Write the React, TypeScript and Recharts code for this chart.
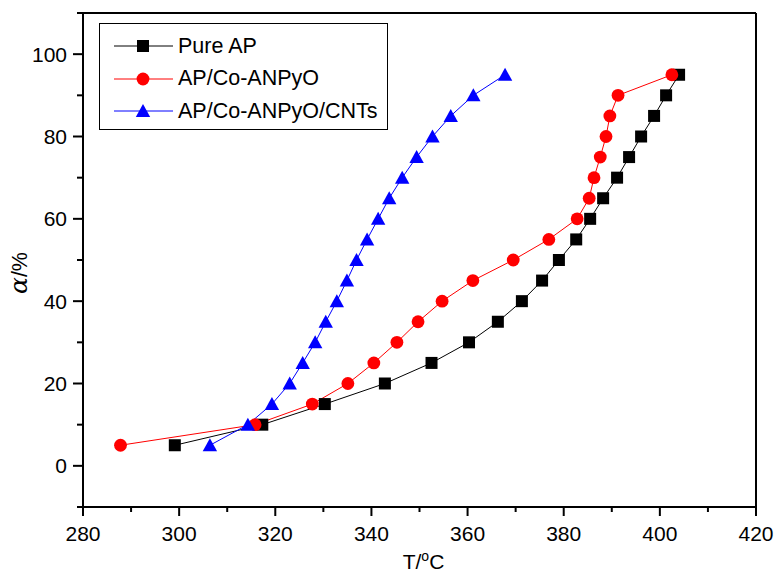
import { Line, LineChart, ReferenceLine, XAxis, YAxis } from "recharts";

const FONT = "'Liberation Sans', Arial, sans-serif";

// conversion levels, one point per 5 %
const alpha = [5, 10, 15, 20, 25, 30, 35, 40, 45, 50, 55, 60, 65, 70, 75, 80, 85, 90, 95];

// temperatures (°C)
const pureApT = [
	299.1, 317.3, 330.3, 342.8, 352.5, 360.3, 366.3, 371.3, 375.5, 379.0, 382.6, 385.5, 388.2, 391.1, 393.6, 396.1,
	398.8, 401.3, 404.0,
];
const coAnpyoT = [
	287.8, 315.8, 327.7, 335.1, 340.5, 345.3, 349.7, 354.7, 361.1, 369.5, 376.9, 382.8, 385.3, 386.3, 387.6, 388.8,
	389.6, 391.3, 402.5,
];
const cntsT = [
	306.4, 314.3, 319.3, 323.0, 325.7, 328.3, 330.5, 332.8, 334.9, 336.9, 339.1, 341.4, 343.7, 346.4, 349.4, 352.7,
	356.5, 361.2, 367.8,
];

const xTicks = [280, 290, 300, 310, 320, 330, 340, 350, 360, 370, 380, 390, 400, 410, 420];
const yTicks = [-10, 0, 10, 20, 30, 40, 50, 60, 70, 80, 90, 100, 110];

type Shape = "square" | "circle" | "triangle";

const series: { name: string; color: string; shape: Shape; temps: number[] }[] = [
	{ name: "Pure AP", color: "#000000", shape: "square", temps: pureApT },
	{ name: "AP/Co-ANPyO", color: "#ff0000", shape: "circle", temps: coAnpyoT },
	{ name: "AP/Co-ANPyO/CNTs", color: "#0000ff", shape: "triangle", temps: cntsT },
];

const toPoints = (temps: number[]) => temps.map((t, i) => ({ T: t, a: alpha[i] }));

function Marker({ shape, cx, cy, color }: { shape: Shape; cx: number; cy: number; color: string }) {
	if (shape === "square") return <rect x={cx - 6} y={cy - 6} width={12} height={12} fill={color} />;
	if (shape === "circle") return <circle cx={cx} cy={cy} r={6.4} fill={color} />;
	return <polygon points={`${cx},${cy - 7} ${cx + 7.2},${cy + 6} ${cx - 7.2},${cy + 6}`} fill={color} />;
}

function XTick(props: any) {
	const { x, y, payload } = props;
	const major = payload.value % 20 === 0;
	return (
		<g>
			<line x1={x} x2={x} y1={y} y2={y + (major ? 9 : 5)} stroke="#000" strokeWidth={2} />
			{major && (
				<text x={x} y={y + 34} textAnchor="middle" fontSize={21} fontFamily={FONT} fill="#000">
					{payload.value}
				</text>
			)}
		</g>
	);
}

function YTick(props: any) {
	const { x, y, payload } = props;
	const v = payload.value;
	const major = v % 20 === 0;
	return (
		<g>
			<line x1={x} x2={x - (major ? 10 : 6)} y1={y} y2={y} stroke="#000" strokeWidth={2} />
			{major && v >= 0 && v <= 100 && (
				<text x={x - 16} y={y} dy="0.36em" textAnchor="end" fontSize={21} fontFamily={FONT} fill="#000">
					{v}
				</text>
			)}
		</g>
	);
}

function XLabel({ viewBox }: any) {
	const { x, y, width } = viewBox;
	return (
		<text x={x + width / 2 + 4} y={y + 62} textAnchor="middle" fontSize={21} fontFamily={FONT} fill="#000">
			T/
			<tspan dy={-8} fontSize={14}>
				o
			</tspan>
			<tspan dy={8}>C</tspan>
		</text>
	);
}

function YLabel({ viewBox }: any) {
	const { x, y, height } = viewBox;
	const cx = x + 27;
	const cy = y + height / 2 + 13;
	return (
		<text
			x={cx}
			y={cy}
			transform={`rotate(-90 ${cx} ${cy})`}
			textAnchor="middle"
			fontSize={21.5}
			fontFamily={FONT}
			fill="#000"
		>
			<tspan fontStyle="italic" fontSize={25} fontFamily="'DejaVu Serif', serif">
				α
			</tspan>
			/%
		</text>
	);
}

function LegendBox() {
	return (
		<div
			style={{
				position: "absolute",
				left: 99,
				top: 23,
				width: 287,
				height: 99,
				border: "1px solid #000",
				background: "#fff",
				fontFamily: FONT,
				fontSize: 21.5,
				paddingTop: 6,
				boxSizing: "content-box",
			}}
		>
			{series.map((s) => (
				<div key={s.name} style={{ display: "flex", alignItems: "center", height: 32.5 }}>
					<svg width={78} height={20} style={{ flexShrink: 0 }}>
						<line x1={14} x2={73} y1={10} y2={10} stroke={s.color} strokeWidth={1} />
						<Marker shape={s.shape} cx={43} cy={10} color={s.color} />
					</svg>
					<span style={{ lineHeight: 1 }}>{s.name}</span>
				</div>
			))}
		</div>
	);
}

export default function App() {
	return (
		<div style={{ position: "absolute", left: 0, top: 0, width: 776, height: 573, background: "#fff" }}>
			<LineChart width={776} height={573} margin={{ top: 13, right: 20, left: 0, bottom: 0 }}>
				<XAxis
					type="number"
					dataKey="T"
					domain={[280, 420]}
					ticks={xTicks}
					interval={0}
					height={66}
					tickSize={0}
					tickMargin={0}
					tickLine={false}
					tick={XTick}
					axisLine={{ stroke: "#000", strokeWidth: 2 }}
					allowDataOverflow
					label={XLabel}
				/>
				<YAxis
					type="number"
					dataKey="a"
					domain={[-10, 110]}
					ticks={yTicks}
					interval={0}
					width={83}
					tickSize={0}
					tickMargin={0}
					tickLine={false}
					tick={YTick}
					axisLine={{ stroke: "#000", strokeWidth: 2 }}
					allowDataOverflow
					label={YLabel}
				/>
				<ReferenceLine y={110} stroke="#000" strokeWidth={2} />
				<ReferenceLine x={420} stroke="#000" strokeWidth={2} />
				{series.map((s) => (
					<Line
						key={s.name}
						name={s.name}
						data={toPoints(s.temps)}
						dataKey="a"
						stroke={s.color}
						strokeWidth={1}
						isAnimationActive={false}
						dot={(p: any) => <Marker key={`${s.name}-${p.index}`} shape={s.shape} cx={p.cx} cy={p.cy} color={s.color} />}
						activeDot={false}
					/>
				))}
			</LineChart>
			<LegendBox />
		</div>
	);
}
